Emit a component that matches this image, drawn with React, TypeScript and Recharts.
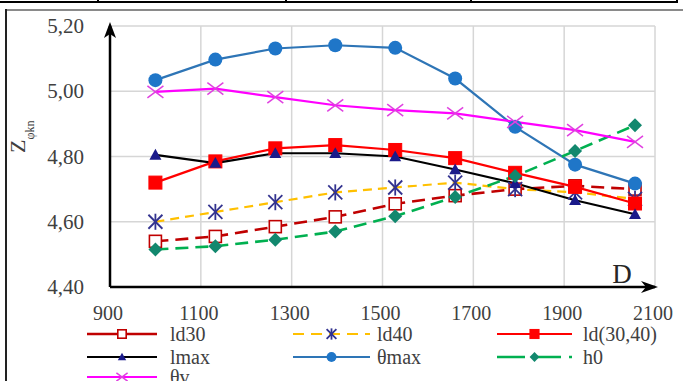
import React from 'react';
import { LineChart, Line, XAxis, YAxis, CartesianGrid, ReferenceDot } from 'recharts';

// Diameter D (x) and Z values for each series
const dValues = [1000, 1132, 1264, 1396, 1528, 1660, 1792, 1924, 2056];
const ld30 = [4.54, 4.555, 4.585, 4.615, 4.655, 4.68, 4.70, 4.71, 4.70];
const ld40 = [4.60, 4.63, 4.66, 4.69, 4.705, 4.72, 4.70, 4.69, 4.67];
const ld3040 = [4.72, 4.785, 4.825, 4.835, 4.82, 4.795, 4.75, 4.707, 4.656];
const lmax = [4.805, 4.78, 4.81, 4.81, 4.80, 4.76, 4.718, 4.666, 4.623];
const thetaMax = [5.034, 5.097, 5.131, 5.141, 5.133, 5.039, 4.891, 4.775, 4.717];
const h0 = [4.515, 4.525, 4.545, 4.57, 4.617, 4.676, 4.74, 4.817, 4.896];
const thetaV = [4.998, 5.008, 4.982, 4.957, 4.942, 4.932, 4.906, 4.881, 4.845];

const xTicks = [900, 1100, 1300, 1500, 1700, 1900, 2100];
const yTicks = [4.4, 4.6, 4.8, 5.0, 5.2];

const FONT = "'Liberation Serif', 'DejaVu Serif', serif";
const textStyle = { fontFamily: FONT };

type MarkerKind = 'openSquare' | 'star' | 'square' | 'triangle' | 'circle' | 'diamond' | 'cross';

interface SeriesDef {
  key: string;
  name: string;
  values: number[];
  stroke: string;
  dash?: string;
  legendDash?: string;
  marker: MarkerKind;
  markerColor: string;
  width: number;
}

const series: SeriesDef[] = [
  { key: 'ld30', name: 'ld30', values: ld30, stroke: '#C00000', dash: '13 7', marker: 'openSquare', markerColor: '#C00000', width: 2.6 },
  { key: 'ld40', name: 'ld40', values: ld40, stroke: '#FFC000', dash: '9 6', legendDash: '11 7', marker: 'star', markerColor: '#33338F', width: 2.2 },
  { key: 'ld3040', name: 'ld(30,40)', values: ld3040, stroke: '#FF0000', marker: 'square', markerColor: '#FF0000', width: 2.2 },
  { key: 'lmax', name: 'lmax', values: lmax, stroke: '#000000', marker: 'triangle', markerColor: '#1A1A8A', width: 2.2 },
  { key: 'thetaMax', name: 'θmax', values: thetaMax, stroke: '#2E75B6', marker: 'circle', markerColor: '#1F76C8', width: 2.2 },
  { key: 'h0', name: 'h0', values: h0, stroke: '#00B050', dash: '13 7', legendDash: '28 8', marker: 'diamond', markerColor: '#12886E', width: 2.6 },
  { key: 'thetaV', name: 'θv', values: thetaV, stroke: '#FF00FF', marker: 'cross', markerColor: '#E040E0', width: 2.2 },
];

const chartData = dValues.map((d, i) => {
  const row: Record<string, number> = { D: d };
  series.forEach((s) => {
    row[s.key] = s.values[i];
  });
  return row;
});

function MarkerShape({ kind, cx, cy, color, scale = 1 }: { kind: MarkerKind; cx: number; cy: number; color: string; scale?: number }) {
  const k = scale;
  switch (kind) {
    case 'openSquare': {
      const h = 6 * k;
      return <rect x={cx - h} y={cy - h} width={2 * h} height={2 * h} fill="#fff" stroke={color} strokeWidth={1.6} />;
    }
    case 'square': {
      const h = 6.5 * k;
      return <rect x={cx - h} y={cy - h} width={2 * h} height={2 * h} fill={color} stroke={color} strokeWidth={1} />;
    }
    case 'star': {
      const h = 7 * k;
      return (
        <g stroke={color} strokeWidth={1.8}>
          <line x1={cx - h} y1={cy - h} x2={cx + h} y2={cy + h} />
          <line x1={cx - h} y1={cy + h} x2={cx + h} y2={cy - h} />
          <line x1={cx} y1={cy - h * 1.15} x2={cx} y2={cy + h * 1.15} />
        </g>
      );
    }
    case 'triangle': {
      const h = 6 * k;
      return <path d={`M${cx},${cy - h} L${cx + h},${cy + h * 0.8} L${cx - h},${cy + h * 0.8} Z`} fill={color} />;
    }
    case 'circle':
      return <circle cx={cx} cy={cy} r={7 * k} fill={color} />;
    case 'diamond': {
      const h = 7 * k;
      return <path d={`M${cx},${cy - h} L${cx + h},${cy} L${cx},${cy + h} L${cx - h},${cy} Z`} fill={color} />;
    }
    case 'cross': {
      const w = 8 * k;
      const h = 6 * k;
      return (
        <g stroke={color} strokeWidth={1.5}>
          <line x1={cx - w} y1={cy - h} x2={cx + w} y2={cy + h} />
          <line x1={cx - w} y1={cy + h} x2={cx + w} y2={cy - h} />
        </g>
      );
    }
    default:
      return null;
  }
}

const YTick = (props: any) => {
  const { x, y, payload } = props;
  return (
    <text x={x} y={y} dy={7} textAnchor="end" style={textStyle} fontSize={21} fill="#404040">
      {payload.value.toFixed(2).replace('.', ',')}
    </text>
  );
};

const XTick = (props: any) => {
  const { x, y, payload } = props;
  return (
    <text x={x - 2} y={y} dy={12} textAnchor="middle" style={textStyle} fontSize={20} fill="#404040">
      {payload.value}
    </text>
  );
};

const YLabel = (props: any) => {
  const vb = props.viewBox || {};
  const bx = (vb.x ?? 0) + 25;
  const by = (vb.y ?? 0) + 127;
  return (
    <text transform={`translate(${bx},${by}) rotate(-90)`} style={textStyle} fontSize={22} fill="#404040">
      Z
      <tspan fontSize={12} dy={9}>φkn</tspan>
    </text>
  );
};

const XLabel = (props: any) => {
  const vb = props.viewBox || {};
  const x = (vb.x ?? 0) + (vb.width ?? 0) - 33;
  const y = (vb.y ?? 0) - 4;
  return (
    <text x={x} y={y} textAnchor="middle" style={textStyle} fontSize={27} fill="#262626">
      D
    </text>
  );
};

const ArrowRight = (props: any) => {
  const { cx, cy } = props;
  return <path d={`M${cx + 3},${cy} L${cx - 14},${cy - 6} L${cx - 9},${cy} L${cx - 14},${cy + 6} Z`} fill="#000" />;
};

const ArrowUp = (props: any) => {
  const { cx, cy } = props;
  return <path d={`M${cx},${cy - 4} L${cx - 6},${cy + 12} L${cx},${cy + 8} L${cx + 6},${cy + 12} Z`} fill="#000" />;
};

// Legend laid out in three columns under the axis
const legendCols = [
  { lineX: 87, len: 70, textX: 170 },
  { lineX: 293, len: 77, textX: 377 },
  { lineX: 497, len: 75, textX: 583 },
];
const legendRows = [334, 357, 377];

function LegendBlock() {
  return (
    <svg width={683} height={381} style={{ position: 'absolute', left: 0, top: 0, pointerEvents: 'none' }}>
      {series.map((s, i) => {
        const col = legendCols[i % 3];
        const y = legendRows[Math.floor(i / 3)];
        const mid = col.lineX + col.len / 2;
        return (
          <g key={s.key}>
            <line
              x1={col.lineX}
              y1={y}
              x2={col.lineX + col.len}
              y2={y}
              stroke={s.stroke}
              strokeWidth={s.width}
              strokeDasharray={s.legendDash}
            />
            <MarkerShape kind={s.marker} cx={mid} cy={y} color={s.markerColor} scale={0.7} />
            <text x={col.textX} y={y + 7} style={textStyle} fontSize={20} fill="#404040">
              {s.name}
            </text>
          </g>
        );
      })}
    </svg>
  );
}

export default function App() {
  return (
    <div style={{ position: 'absolute', left: 0, top: 0, width: 683, height: 381, background: '#fff', overflow: 'hidden' }}>
      {/* surrounding frame lines */}
      <div style={{ position: 'absolute', left: 0, top: 1, width: 678, height: 2, background: '#000' }} />
      {[97, 285, 470, 676].map((x) => (
        <div key={x} style={{ position: 'absolute', left: x, top: 0, width: 2, height: 3, background: '#000' }} />
      ))}
      <div style={{ position: 'absolute', left: 6, top: 9, width: 677, height: 2, background: '#8a8a8a' }} />
      <div style={{ position: 'absolute', left: 5, top: 9, width: 2, height: 372, background: '#222' }} />
      <div style={{ position: 'absolute', left: 0, top: 0 }}>
        <LineChart width={683} height={381} data={chartData} margin={{ top: 26, right: 28, bottom: 54, left: 0 }}>
          <CartesianGrid stroke="#d6d6d6" strokeWidth={1.5} />
          <XAxis
            type="number"
            dataKey="D"
            domain={[900, 2100]}
            ticks={xTicks}
            interval={0}
            height={40}
            tickLine={false}
            tickSize={0}
            tickMargin={21}
            axisLine={{ stroke: '#000', strokeWidth: 2.5 }}
            tick={<XTick />}
            label={<XLabel />}
          />
          <YAxis
            type="number"
            domain={[4.4, 5.2]}
            ticks={yTicks}
            interval={0}
            width={110}
            tickLine={false}
            tickSize={0}
            tickMargin={26}
            axisLine={{ stroke: '#000', strokeWidth: 2.5 }}
            tick={<YTick />}
            label={<YLabel />}
          />
          {series.map((s) => (
            <Line
              key={s.key}
              type="linear"
              dataKey={s.key}
              name={s.name}
              stroke={s.stroke}
              strokeWidth={s.width}
              strokeDasharray={s.dash}
              isAnimationActive={false}
              dot={(p: any) => <MarkerShape key={`${s.key}-${p.index}`} kind={s.marker} cx={p.cx} cy={p.cy} color={s.markerColor} />}
              activeDot={false}
            />
          ))}
          <ReferenceDot x={2100} y={4.4} ifOverflow="visible" shape={<ArrowRight />} />
          <ReferenceDot x={900} y={5.2} ifOverflow="visible" shape={<ArrowUp />} />
        </LineChart>
      </div>
      <LegendBlock />
    </div>
  );
}
